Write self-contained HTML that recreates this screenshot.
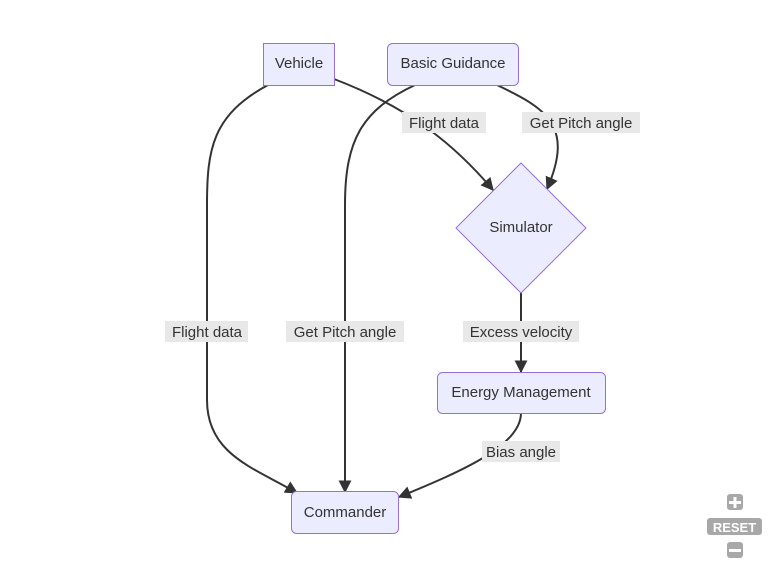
<!DOCTYPE html>
<html><head><style>
html,body{margin:0;padding:0;background:#fff;}
svg text{font-family:"Liberation Sans",sans-serif;font-size:15px;fill:#333;}
</style></head><body>
<svg width="773" height="567" viewBox="0 0 773 567" xmlns="http://www.w3.org/2000/svg">
<defs>
<marker id="a" viewBox="0 0 10 10" refX="9" refY="5" markerWidth="13" markerHeight="13" orient="auto" markerUnits="userSpaceOnUse"><path d="M0,0L10,5L0,10z" fill="#333"/></marker>
</defs>
<g fill="none" stroke="#333" stroke-width="2">
<path d="M268,85 C212,115 207,150 207,205 L207,400 C207,455 255,468 297,493" marker-end="url(#a)"/>
<path d="M334,79 C410,108 455,145 493,190" marker-end="url(#a)"/>
<path d="M415,85 C362,110 345,140 345,205 L345,492" marker-end="url(#a)"/>
<path d="M497,85 C545,108 575,125 547,189" marker-end="url(#a)"/>
<path d="M521,293 L521,372" marker-end="url(#a)"/>
<path d="M521,413 C521,445 465,470 399,497" marker-end="url(#a)"/>
</g>
<g fill="#ececff" stroke="#9370db" stroke-width="1">
<rect x="263.5" y="43.5" width="71" height="42"/>
<rect x="387.5" y="43.5" width="131" height="42" rx="5"/>
<polygon points="521,163 586,228 521,293 456,228"/>
<rect x="437.5" y="372.5" width="168" height="41" rx="5"/>
<rect x="291.5" y="491.5" width="107" height="42" rx="5"/>
</g>
<g text-anchor="middle">
<text x="299" y="68">Vehicle</text>
<text x="453" y="68">Basic Guidance</text>
<text x="521" y="232">Simulator</text>
<text x="521" y="397">Energy Management</text>
<text x="345" y="517">Commander</text>
</g>
<g fill="#e8e8e8">
<rect x="402" y="112" width="84" height="21"/>
<rect x="522" y="112" width="118" height="21"/>
<rect x="165" y="321" width="83" height="21"/>
<rect x="286" y="321" width="118" height="21"/>
<rect x="463" y="321" width="116" height="21"/>
<rect x="482" y="441" width="78" height="21"/>
</g>
<g text-anchor="middle">
<text x="444" y="128">Flight data</text>
<text x="581" y="128">Get Pitch angle</text>
<text x="207" y="337">Flight data</text>
<text x="345" y="337">Get Pitch angle</text>
<text x="521" y="337">Excess velocity</text>
<text x="521" y="457">Bias angle</text>
</g>
<g fill="#a8a8a8">
<rect x="727" y="494" width="16" height="16" rx="3"/>
<rect x="707" y="518" width="55" height="17" rx="3"/>
<rect x="727" y="542" width="16" height="16" rx="3"/>
</g>
<g fill="#fff">
<rect x="729" y="501" width="12" height="3"/><rect x="733.5" y="497" width="3" height="11"/>
<rect x="729" y="549" width="12" height="3"/>
</g>
<text x="734.5" y="532" text-anchor="middle" style="font-size:13px;font-weight:bold;fill:#fff">RESET</text>
</svg>
</body></html>
